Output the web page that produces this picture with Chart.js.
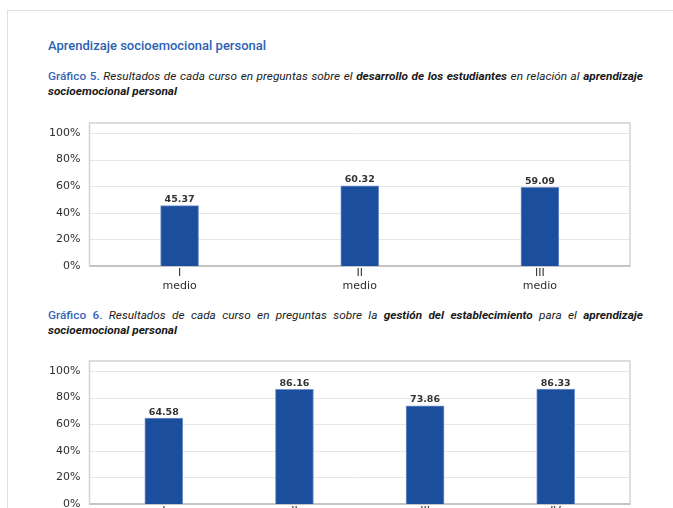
<!DOCTYPE html>
<html>
<head>
<meta charset="utf-8">
<script src="https://cdn.jsdelivr.net/npm/chart.js@4.4.1/dist/chart.umd.min.js"></script>
<style>
  html, body { margin: 0; padding: 0; background: #fff; overflow: hidden; }
  body { width: 673px; height: 508px; position: relative; font-family: Roboto, "Noto Sans", sans-serif; }
  .page { position: absolute; left: 7px; top: 10px; width: 700px; height: 520px;
          border-top: 1.5px solid #e0e0e0; border-left: 1.5px solid #e0e0e0; }
  .h { position: absolute; left: 48px; top: 38px; font-size: 13px; font-weight: 500; color: #2d5fb4; }
  .cap { position: absolute; left: 48px; width: 595px; font-size: 11.8px; line-height: 15px; color: #1a1a1a; font-style: italic; }
  .cap .l1 { text-align: justify; text-align-last: justify; white-space: nowrap; }
  .cap .g { color: #3565b8; font-style: normal; font-weight: 500; }
  .cap b { font-weight: 700; }
  canvas { position: absolute; left: 30px; }
</style>
</head>
<body>
<div class="page"></div>
<div class="h">Aprendizaje socioemocional personal</div>
<div class="cap" style="top:69px">
  <div class="l1"><span class="g">Gráfico 5.</span> Resultados de cada curso en preguntas sobre el <b>desarrollo de los estudiantes</b> en relación al <b>aprendizaje</b></div>
  <div><b>socioemocional personal</b></div>
</div>
<canvas id="chart5" width="620" height="180" style="top:115px"></canvas>
<div class="cap" style="top:308px">
  <div class="l1"><span class="g">Gráfico 6.</span> Resultados de cada curso en preguntas sobre la <b>gestión del establecimiento</b> para el <b>aprendizaje</b></div>
  <div><b>socioemocional personal</b></div>
</div>
<canvas id="chart6" width="620" height="180" style="top:353px"></canvas>
<script>
// datos
const cursos5 = [["I", "medio"], ["II", "medio"], ["III", "medio"]];
const desarrollo = [45.37, 60.32, 59.09];
const cursos6 = [["I", "medio"], ["II", "medio"], ["III", "medio"], ["IV", "medio"]];
const gestion = [64.58, 86.16, 73.86, 86.33];
const yTicks = [0, 20, 40, 60, 80, 100];

// frame + gridlines, optionally wider than the chart area
const framePlugin = {
  id: 'frame',
  beforeDatasetsDraw(chart, args, opts) {
    const a = chart.chartArea, y = chart.scales.y, c = chart.ctx;
    const pad = opts.padX || 0;
    c.save();
    c.strokeStyle = '#e6e6e6';
    c.lineWidth = 1;
    yTicks.forEach(v => {
      if (v === 0) return;
      const py = Math.round(y.getPixelForValue(v)) + 0.5;
      c.beginPath(); c.moveTo(a.left - pad, py); c.lineTo(a.right + pad, py); c.stroke();
    });
    c.strokeStyle = '#d2d2d2';
    c.lineWidth = 1.5;
    c.strokeRect(a.left - pad, a.top, a.right - a.left + 2 * pad, a.bottom - a.top);
    c.strokeStyle = '#c4c4c4';
    c.lineWidth = 2;
    c.beginPath(); c.moveTo(a.left - pad, a.bottom); c.lineTo(a.right + pad, a.bottom); c.stroke();
    c.restore();
  },
  afterDatasetsDraw(chart) {
    const c = chart.ctx;
    const ds = chart.data.datasets[0];
    c.save();
    c.font = 'bold 9.5px "DejaVu Sans"';
    c.fillStyle = '#333';
    c.textAlign = 'center';
    c.textBaseline = 'bottom';
    chart.getDatasetMeta(0).data.forEach((bar, i) => {
      c.fillText(ds.data[i].toFixed(2), bar.x, bar.y - 1);
    });
    c.restore();
  }
};

function createChart(id, labels, values, padX) {
  return new Chart(document.getElementById(id), {
    type: 'bar',
    data: {
      labels: labels,
      datasets: [{
        data: values,
        backgroundColor: '#1b4f9e',
        borderColor: '#7393cc',
        borderWidth: 1,
        barThickness: 38
      }]
    },
    options: {
      responsive: false,
      animation: false,
      layout: { padding: { top: 8, right: 20 + padX, bottom: 0, left: 0 } },
      plugins: { legend: { display: false }, tooltip: { enabled: false }, frame: { padX: padX } },
      scales: {
        x: {
          grid: { display: false, drawTicks: false },
          border: { display: false },
          ticks: {
            padding: 1,
            color: '#2e2e2e',
            font: { family: 'DejaVu Sans', size: 11, lineHeight: 1.15 },
            maxRotation: 0
          },
          afterFit(scale) { scale.height = 29; scale.paddingLeft = 0; scale.paddingRight = 0; }
        },
        y: {
          min: 0,
          max: 107.5,
          grid: { display: false, drawTicks: false },
          border: { display: false },
          afterBuildTicks(scale) { scale.ticks = yTicks.map(v => ({ value: v })); },
          ticks: {
            padding: 9 + padX,
            color: '#2e2e2e',
            font: { family: 'DejaVu Sans', size: 11 },
            callback: v => v + '%'
          },
          afterFit(scale) { scale.width = 59.5 + padX; scale.paddingTop = 0; scale.paddingBottom = 0; }
        }
      }
    },
    plugins: [framePlugin]
  });
}

createChart('chart5', cursos5, desarrollo, 0);
createChart('chart6', cursos6, gestion, 9);
</script>
</body>
</html>
